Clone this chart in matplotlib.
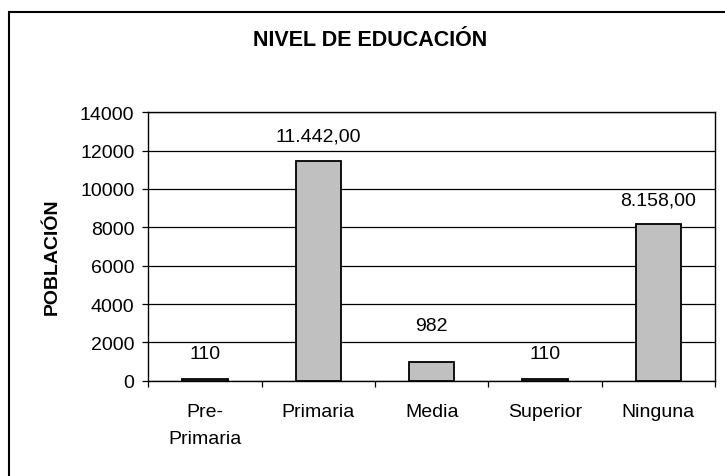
import matplotlib.pyplot as plt
import matplotlib.patches as patches
import numpy as np

# data
categories = ["Pre-\nPrimaria", "Primaria", "Media", "Superior", "Ninguna"]
poblacion = [110, 11442, 982, 110, 8158]
value_labels = ["110", "11.442,00", "982", "110", "8.158,00"]

# label offsets above the bar top (points)
label_offsets = [18, 18.5, 26.5, 18, 17.5]

plt.rcParams['font.family'] = ['Liberation Sans', 'DejaVu Sans']

fig = plt.figure(figsize=(7.25, 4.77), dpi=100)
ax = fig.add_axes([0.2046, 0.1998, 0.9862 - 0.2046, 0.7625 - 0.1998])

x = np.arange(len(categories))
ax.bar(x, poblacion, width=0.4, color="#c0c0c0", edgecolor="black",
       linewidth=1.3, zorder=3)

for xi, val, txt, off in zip(x, poblacion, value_labels, label_offsets):
    ax.annotate(txt, (xi, val), xytext=(0, off), textcoords="offset points",
                ha="center", va="center", fontsize=14, color="black")

ax.set_xlim(-0.5, len(categories) - 0.5)
ax.set_ylim(0, 14000)
ax.set_yticks(np.arange(0, 14001, 2000))
ax.yaxis.grid(True, color="black", linewidth=0.9, zorder=0)
ax.set_axisbelow(True)

# ticks at category boundaries, labels centred under the bars
ax.set_xticks(np.arange(-0.5, len(categories), 1.0))
ax.set_xticklabels([])
ax.set_xticks(x, minor=True)
ax.set_xticklabels(categories, minor=True, fontsize=14, linespacing=1.75)
ax.tick_params(axis="x", which="minor", length=0, pad=16)
ax.tick_params(axis="x", which="major", length=4, width=0.9)
ax.tick_params(axis="y", length=4, width=0.9, labelsize=14, pad=6)

for s in ax.spines.values():
    s.set_linewidth(1.0)
    s.set_color("black")

fig.text(52 / 725, 1 - 257 / 477, "POBLACIÓN", rotation=90, ha="center",
         va="center", fontsize=14, fontweight="bold")
fig.text(370 / 725, 1 - 41 / 477, "NIVEL DE EDUCACIÓN", ha="center",
         va="center", fontsize=15.5, fontweight="bold")

# outer chart border (runs off the right and bottom edges)
border = patches.Rectangle((8.5 / 725, -0.1), 1.2, 0.1 + 1 - 12.5 / 477,
                           transform=fig.transFigure, fill=False,
                           edgecolor="black", linewidth=1.5)
fig.patches.append(border)

fig.savefig("out.png", dpi=100)
